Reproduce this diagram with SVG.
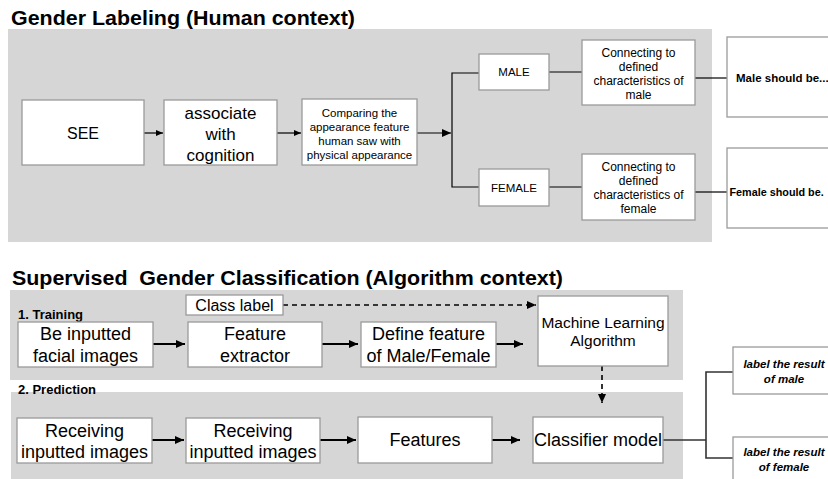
<svg xmlns="http://www.w3.org/2000/svg" width="828" height="479" viewBox="0 0 828 479">
<defs>
<style>
text{font-family:"Liberation Sans",Arial,sans-serif;fill:#000}
.title{font-size:19.5px;font-weight:bold}
.panel{fill:#d6d6d6}
.box{fill:#fff;stroke:#9a9a9a;stroke-width:1.3}
.t11{font-size:11.5px;text-anchor:middle}
.t12{font-size:12px;text-anchor:middle}
.t16{font-size:16px;text-anchor:middle}
.t17{font-size:17px;text-anchor:middle}
.t18{font-size:18px;text-anchor:middle}
.b11{font-size:11.5px;font-weight:bold}
.bi{font-size:11.5px;font-weight:bold;font-style:italic;text-anchor:middle}
.step{font-size:13px;font-weight:bold}
.thin{stroke:#000;stroke-width:1.2;fill:none}
.thick{stroke:#000;stroke-width:2;fill:none}
.dash{stroke:#000;stroke-width:1.6;fill:none;stroke-dasharray:5 4}
.grey{stroke:#333;stroke-width:1.6;fill:none}
</style>
<marker id="ah" markerWidth="8" markerHeight="8" refX="7" refY="4" orient="auto" markerUnits="userSpaceOnUse">
<path d="M0,1 L7,4 L0,7 Z" fill="#000"/>
</marker>
<marker id="ah2" markerWidth="10" markerHeight="10" refX="9" refY="5" orient="auto" markerUnits="userSpaceOnUse">
<path d="M0,1 L9,5 L0,9 Z" fill="#000"/>
</marker>
</defs>

<!-- Top section -->
<text class="title" x="11" y="25" textLength="344" lengthAdjust="spacingAndGlyphs">Gender Labeling (Human context)</text>
<rect class="panel" x="8" y="29" width="704" height="213"/>

<g id="connectors-top">
<line class="thin" x1="144" y1="133" x2="163" y2="133" marker-end="url(#ah)"/>
<line class="thin" x1="277" y1="133" x2="301" y2="133" marker-end="url(#ah)"/>
<line class="thin" x1="417" y1="133" x2="451" y2="133" marker-end="url(#ah2)"/>
<polyline class="thin" points="479,73 452,73 452,187 479,187"/>
<line class="thin" x1="549" y1="72" x2="582" y2="72"/>
<line class="thin" x1="549" y1="187" x2="582" y2="187"/>
<line class="thin" x1="695" y1="78" x2="727" y2="78"/>
<line class="thin" x1="695" y1="192" x2="727" y2="192"/>
</g>

<g id="see">
<rect class="box" x="22" y="100" width="122" height="65"/>
<text class="t16" x="83" y="139">SEE</text>
</g>
<g id="associate">
<rect class="box" x="164" y="100" width="113" height="65"/>
<text class="t17" x="220.5" y="119">associate</text>
<text class="t17" x="220.5" y="140">with</text>
<text class="t17" x="220.5" y="161">cognition</text>
</g>
<g id="comparing">
<rect class="box" x="302" y="99" width="115" height="66"/>
<text class="t11" x="359.5" y="117">Comparing the</text>
<text class="t11" x="359.5" y="131">appearance feature</text>
<text class="t11" x="359.5" y="145">human saw with</text>
<text class="t11" x="359.5" y="159">physical appearance</text>
</g>
<g id="male">
<rect class="box" x="479" y="54" width="70" height="36"/>
<text class="t11" x="514" y="76">MALE</text>
</g>
<g id="female">
<rect class="box" x="479" y="169" width="70" height="37"/>
<text class="t11" x="514" y="191.5">FEMALE</text>
</g>
<g id="conn-male">
<rect class="box" x="582" y="40" width="113" height="65"/>
<text class="t12" x="638.5" y="56.5">Connecting to</text>
<text class="t12" x="638.5" y="70.5">defined</text>
<text class="t12" x="638.5" y="84.5">characteristics of</text>
<text class="t12" x="638.5" y="98.5">male</text>
</g>
<g id="conn-female">
<rect class="box" x="582" y="154" width="113" height="66"/>
<text class="t12" x="638.5" y="171">Connecting to</text>
<text class="t12" x="638.5" y="185">defined</text>
<text class="t12" x="638.5" y="199">characteristics of</text>
<text class="t12" x="638.5" y="213">female</text>
</g>
<g id="male-should">
<rect class="box" x="727" y="37" width="110" height="80"/>
<text class="b11" x="736" y="82">Male should be...</text>
</g>
<g id="female-should">
<rect class="box" x="727" y="148" width="110" height="80"/>
<text class="b11" x="729.5" y="196" style="font-size:10.8px">Female should be.</text>
</g>

<!-- Bottom section -->
<text class="title" x="12" y="285" xml:space="preserve" textLength="551" lengthAdjust="spacingAndGlyphs">Supervised  Gender Classification (Algorithm context)</text>
<rect class="panel" x="10" y="290" width="673" height="90"/>
<rect class="panel" x="11" y="392" width="672" height="87"/>
<text class="step" x="18" y="319">1. Training</text>
<text class="step" x="18" y="394">2. Prediction</text>

<g id="connectors-bottom">
<line class="dash" x1="283" y1="305" x2="536" y2="305" marker-end="url(#ah2)"/>
<line class="thick" x1="153" y1="344" x2="185" y2="344" marker-end="url(#ah2)"/>
<line class="thick" x1="322" y1="344" x2="358" y2="344" marker-end="url(#ah2)"/>
<line class="thick" x1="496" y1="344" x2="523" y2="344" marker-end="url(#ah2)"/>
<line class="dash" x1="602" y1="366" x2="602" y2="403" marker-end="url(#ah2)"/>
<line class="thick" x1="152" y1="440" x2="184" y2="440" marker-end="url(#ah2)"/>
<line class="thick" x1="320" y1="440" x2="356" y2="440" marker-end="url(#ah2)"/>
<line class="thick" x1="492" y1="440" x2="520" y2="440" marker-end="url(#ah2)"/>
<line class="grey" x1="663" y1="440" x2="706" y2="440"/>
<polyline class="grey" points="733,372 706,372 706,458 733,458"/>
</g>

<g id="class-label">
<rect class="box" x="186" y="295" width="97" height="20"/>
<text class="t16" x="234.5" y="311">Class label</text>
</g>
<g id="ml-algorithm">
<rect class="box" x="538" y="296" width="130" height="70"/>
<text class="t16" x="603" y="328" style="font-size:15.5px">Machine Learning</text>
<text class="t16" x="603" y="346" style="font-size:15.5px">Algorithm</text>
</g>
<g id="be-inputted">
<rect class="box" x="18" y="322" width="135" height="45"/>
<text class="t18" x="85.5" y="340">Be inputted</text>
<text class="t18" x="85.5" y="362">facial images</text>
</g>
<g id="feature-extractor">
<rect class="box" x="188" y="322" width="134" height="45"/>
<text class="t18" x="255" y="340">Feature</text>
<text class="t18" x="255" y="362">extractor</text>
</g>
<g id="define-feature">
<rect class="box" x="361" y="322" width="135" height="45"/>
<text class="t18" x="428.5" y="340">Define feature</text>
<text class="t18" x="428.5" y="362">of Male/Female</text>
</g>
<g id="receiving-1">
<rect class="box" x="17" y="418" width="135" height="45"/>
<text class="t18" x="84.5" y="437">Receiving</text>
<text class="t18" x="84.5" y="458">inputted images</text>
</g>
<g id="receiving-2">
<rect class="box" x="186" y="418" width="134" height="45"/>
<text class="t18" x="253" y="437">Receiving</text>
<text class="t18" x="253" y="458">inputted images</text>
</g>
<g id="features">
<rect class="box" x="358" y="417" width="134" height="46"/>
<text class="t18" x="425" y="446">Features</text>
</g>
<g id="classifier">
<rect class="box" x="533" y="417" width="130" height="46"/>
<text class="t18" x="598" y="446">Classifier model</text>
</g>
<g id="label-male">
<rect class="box" x="733" y="347" width="110" height="47"/>
<text class="bi" x="784" y="368">label the result</text>
<text class="bi" x="784" y="383">of male</text>
</g>
<g id="label-female">
<rect class="box" x="733" y="437" width="110" height="50"/>
<text class="bi" x="784" y="456">label the result</text>
<text class="bi" x="784" y="471">of female</text>
</g>
</svg>
